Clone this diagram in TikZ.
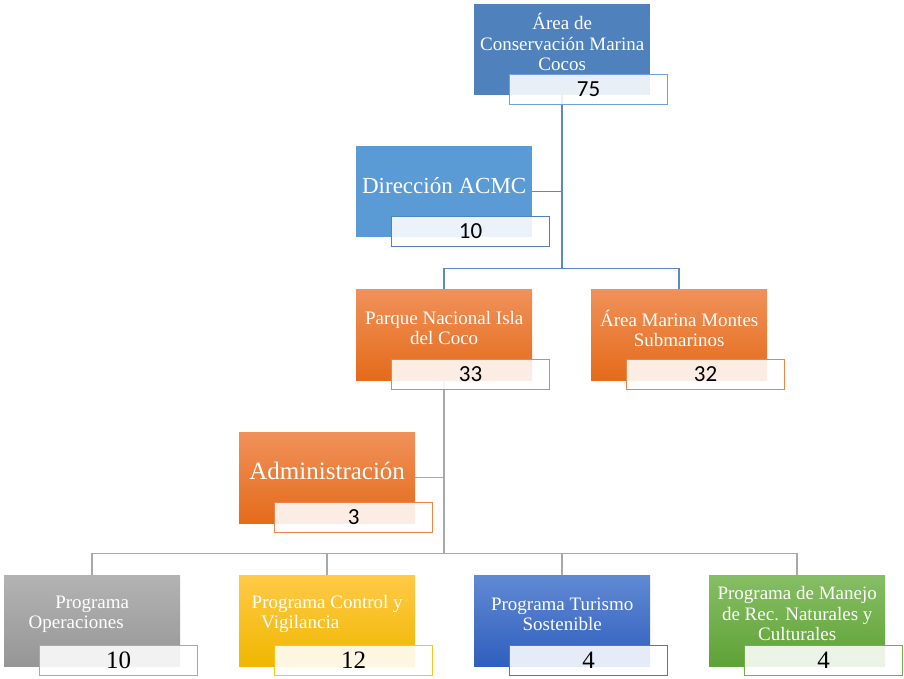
\documentclass[tikz,border=0pt]{standalone}
\usepackage{fontspec}
\setmainfont{Liberation Serif}
\newfontfamily\numsans{Carlito}
\definecolor{topblue}{HTML}{4F81BD}
\definecolor{dirblue}{HTML}{5B9BD5}
\definecolor{numblueA}{HTML}{6FA0D8}
\definecolor{numblueB}{HTML}{4F81BD}
\definecolor{orgtop}{HTML}{F0915A}
\definecolor{orgbot}{HTML}{E46B1A}
\definecolor{orgline}{HTML}{EE8444}
\definecolor{grytop}{HTML}{B3B3B3}
\definecolor{grybot}{HTML}{969696}
\definecolor{gryline}{HTML}{A9A9A9}
\definecolor{gldtop}{HTML}{FFCA47}
\definecolor{gldbot}{HTML}{EFB700}
\definecolor{gldline}{HTML}{FFC21A}
\definecolor{turtop}{HTML}{6189D3}
\definecolor{turbot}{HTML}{2F5FBE}
\definecolor{turline}{HTML}{4A77C8}
\definecolor{grntop}{HTML}{86BE64}
\definecolor{grnbot}{HTML}{5EA236}
\definecolor{grnline}{HTML}{72AE4A}
\definecolor{conblue}{HTML}{5A8AC6}
\definecolor{congray}{HTML}{A8A8A8}
\begin{document}
\begin{tikzpicture}[x=1pt,y=-1pt,
  mainbox/.style={minimum width=176pt,minimum height=91pt,inner sep=0pt,anchor=north west},
  numbox/.style={minimum width=158pt,minimum height=30pt,inner sep=0pt,anchor=north west,
    fill=white,fill opacity=0.88,text opacity=1,line width=1.2pt,text=black},
  lbl/.style={text=white,align=center,inner sep=0pt,font=\fontsize{19}{20.5}\selectfont},
  biglbl/.style={text=white,align=center,inner sep=0pt,font=\fontsize{23}{25}\selectfont},
  biglblB/.style={text=white,align=center,inner sep=0pt,font=\fontsize{25}{27}\selectfont},
  numA/.style={font=\numsans\fontsize{23}{25}\selectfont},
  numB/.style={font=\fontsize{25}{27}\selectfont},
  conA/.style={draw=conblue,line width=1.5pt},
  conB/.style={draw=congray,line width=1.5pt},
  orgbox/.style={mainbox,top color=orgtop,bottom color=orgbot},
]
\useasboundingbox (0,0) rectangle (904,679);

% main boxes
\node[mainbox,fill=topblue] (top) at (474,4) {};
\node[mainbox,fill=dirblue] (dir) at (356,146) {};
\node[orgbox] (pnic) at (356,289) {};
\node[orgbox] (amms) at (591,289) {};
\node[orgbox] (adm) at (239,432) {};
\node[mainbox,top color=grytop,bottom color=grybot] (ops) at (4,575) {};
\node[mainbox,top color=gldtop,bottom color=gldbot] (ctl) at (239,575) {};
\node[mainbox,top color=turtop,bottom color=turbot] (tur) at (474,575) {};
\node[mainbox,top color=grntop,bottom color=grnbot] (man) at (709,575) {};

% connectors
\coordinate (j1) at ([yshift=-173pt]top.south);
\coordinate (j2) at ([yshift=-173pt]pnic.south);
\draw[conA] (top.south) -- (j1);
\draw[conA] (dir.east) -- (dir.east -| top.south);
\draw[conA] (pnic.north) |- (j1) -| (amms.north);
\draw[conB] (pnic.south) -- (j2);
\draw[conB] (adm.east) -- (adm.east -| pnic.south);
\draw[conB] (ops.north) |- (j2) -| (man.north);
\draw[conB] (ctl.north) -- (ctl.north |- j2);
\draw[conB] (tur.north) -- (tur.north |- j2);

% number boxes
\node[numbox,draw=numblueA,numA] (topn) at ([xshift=35pt,yshift=-70pt]top.north west) {75};
\node[numbox,draw=numblueB,numA] (dirn) at ([xshift=35pt,yshift=-70pt]dir.north west) {10};
\node[numbox,draw=orgline,numA] (pnicn) at ([xshift=35pt,yshift=-70pt]pnic.north west) {33};
\node[numbox,draw=orgline,numA] (ammsn) at ([xshift=35pt,yshift=-70pt]amms.north west) {32};
\node[numbox,draw=orgline,numA] (admn) at ([xshift=35pt,yshift=-70pt]adm.north west) {3};
\node[numbox,draw=gryline,numB] (opsn) at ([xshift=35pt,yshift=-70pt]ops.north west) {10};
\node[numbox,draw=gldline,numB] (ctln) at ([xshift=35pt,yshift=-70pt]ctl.north west) {12};
\node[numbox,draw=turline,numB] (turn) at ([xshift=35pt,yshift=-70pt]tur.north west) {4};
\node[numbox,draw=grnline,numB] (mann) at ([xshift=35pt,yshift=-70pt]man.north west) {4};

% labels
\node[lbl] (topt) at ([yshift=7.5pt]top.center) {Área de\\Conservación Marina\\Cocos};
\node[biglbl] (dirt) at ([yshift=6.5pt]dir.center) {Dirección ACMC};
\node[lbl] (pnict) at ([yshift=6.5pt]pnic.center) {Parque Nacional Isla\\del Coco};
\node[lbl] (ammst) at ([yshift=6.5pt]amms.center) {Área Marina Montes\\Submarinos};
\node[biglblB] (admt) at ([yshift=6.5pt]adm.center) {Administración};
\node[lbl] (opst) at ([yshift=6.5pt]ops.center) {Programa\\Operaciones\hspace*{32pt}\null};
\node[lbl] (ctlt) at ([yshift=6.5pt]ctl.center) {Programa Control y\\Vigilancia\hspace*{54pt}\null};
\node[lbl] (turt) at ([yshift=6.5pt]tur.center) {Programa Turismo\\Sostenible};
\node[lbl] (mant) at ([yshift=7pt]man.center) {Programa de Manejo\\de Rec. Naturales y\\Culturales};
\end{tikzpicture}
\end{document}
